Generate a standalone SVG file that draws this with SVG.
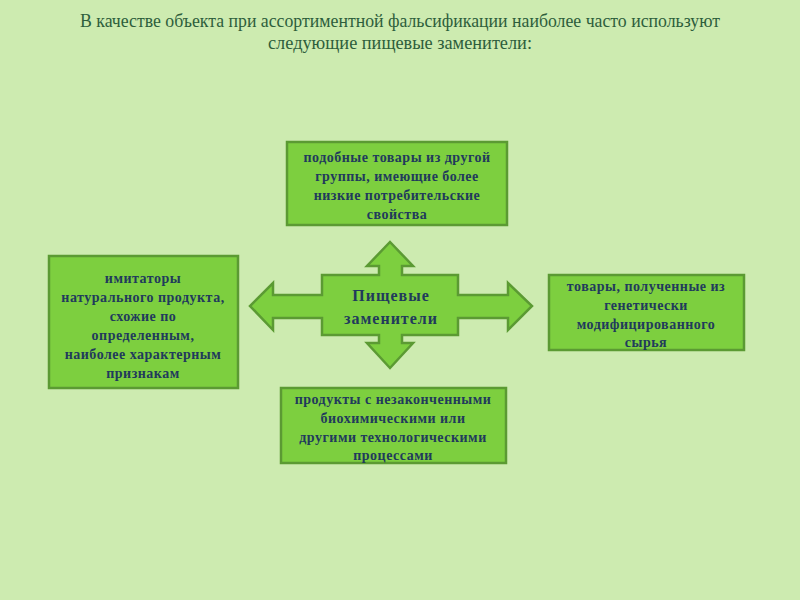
<svg xmlns="http://www.w3.org/2000/svg" width="800" height="600" viewBox="0 0 800 600">
<style>
.box{fill:#7dcf3f;stroke:#5b9a33;stroke-width:2.5}
.bt{font-family:"Liberation Serif",serif;font-weight:bold;font-size:14px;letter-spacing:0.5px;fill:#213a5c;text-anchor:middle}
.ct{font-family:"Liberation Serif",serif;font-weight:bold;font-size:16px;letter-spacing:1px;fill:#213a5c;text-anchor:middle}
.title{font-family:"Liberation Serif",serif;font-size:19px;fill:#2d5e3c;text-anchor:middle}
</style>
<rect x="0" y="0" width="800" height="600" fill="#cdebb0"/>
<g id="title">
<text class="title" x="400" y="27" textLength="640" lengthAdjust="spacingAndGlyphs">В качестве объекта при ассортиментной фальсификации наиболее часто используют</text>
<text class="title" x="400" y="49" textLength="264" lengthAdjust="spacingAndGlyphs">следующие пищевые заменители:</text>
</g>
<g id="connectors">
<path class="box" d="M322,275 L379,275 L379,266 L367,266 L390,242 L413,266 L402,266 L402,275 L458,275 L458,295 L508,295 L508,283 L532,306 L508,330 L508,318 L458,318 L458,335 L402,335 L402,343 L413,343 L390,368 L367,343 L379,343 L379,335 L322,335 L322,318 L273,318 L273,330 L250,306 L273,283 L273,295 L322,295 Z"/>
</g>
<g id="center">
<text class="ct" x="391" y="301">Пищевые</text>
<text class="ct" x="391" y="324">заменители</text>
</g>
<g id="top">
<rect class="box" x="287" y="142" width="220" height="83"/>
<text class="bt" x="397" y="162">подобные товары из другой</text>
<text class="bt" x="397" y="181">группы, имеющие более</text>
<text class="bt" x="397" y="200">низкие потребительские</text>
<text class="bt" x="397" y="219">свойства</text>
</g>
<g id="left">
<rect class="box" x="49" y="256" width="189" height="132"/>
<text class="bt" x="143" y="283">имитаторы</text>
<text class="bt" x="143" y="302">натурального продукта,</text>
<text class="bt" x="143" y="321">схожие по</text>
<text class="bt" x="143" y="340">определенным,</text>
<text class="bt" x="143" y="359">наиболее характерным</text>
<text class="bt" x="143" y="378">признакам</text>
</g>
<g id="right">
<rect class="box" x="549" y="275" width="195" height="75"/>
<text class="bt" x="646" y="291">товары, полученные из</text>
<text class="bt" x="646" y="310">генетически</text>
<text class="bt" x="646" y="329">модифицированного</text>
<text class="bt" x="646" y="347">сырья</text>
</g>
<g id="bottom">
<rect class="box" x="281" y="388" width="225" height="75"/>
<text class="bt" x="393" y="404">продукты с незаконченными</text>
<text class="bt" x="393" y="423">биохимическими или</text>
<text class="bt" x="393" y="442">другими технологическими</text>
<text class="bt" x="393" y="460">процессами</text>
</g>
</svg>
